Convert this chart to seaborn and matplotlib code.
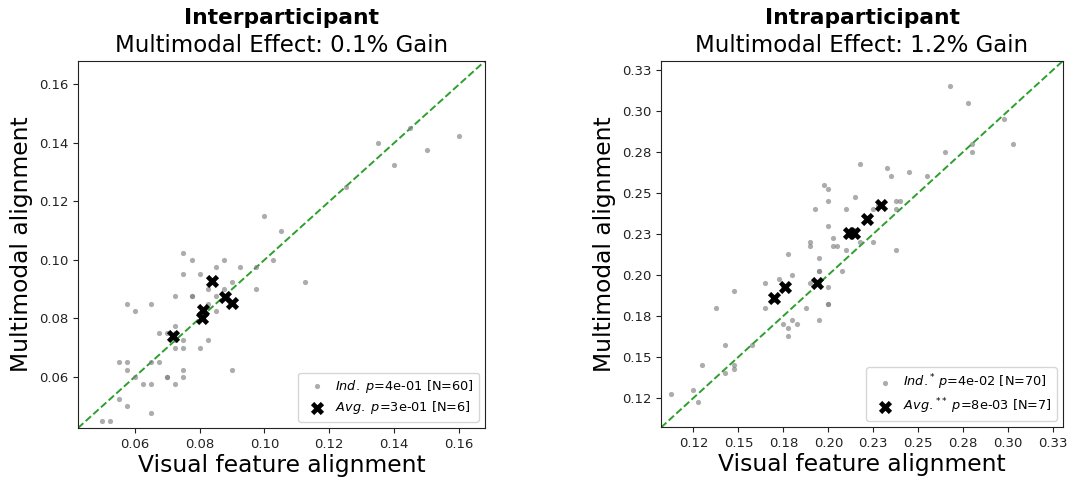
"""Visual vs multimodal alignment scatter, inter- and intraparticipant."""

from __future__ import annotations

import matplotlib

matplotlib.use("Agg")
import matplotlib.pyplot as plt
import pandas as pd
import seaborn as sns

# Interparticipant: individual points and per-group averages
INTER_IND_X = [
    0.050, 0.0525, 0.055, 0.0575, 0.065, 0.055, 0.0575, 0.0575, 0.060, 0.0625,
    0.065, 0.065, 0.0675, 0.070, 0.0725, 0.075, 0.075, 0.0675, 0.070, 0.0725,
    0.0725, 0.075, 0.0725, 0.075, 0.080, 0.0825, 0.0575, 0.060, 0.065, 0.0725,
    0.0775, 0.075, 0.0775, 0.075, 0.080, 0.0825, 0.085, 0.0875, 0.085, 0.0875,
    0.090, 0.0925, 0.085, 0.090, 0.0975, 0.0975, 0.1025, 0.100, 0.105, 0.1125,
    0.125, 0.135, 0.140, 0.145, 0.150, 0.160, 0.0775, 0.070, 0.0725, 0.0825,
]
INTER_IND_Y = [
    0.045, 0.045, 0.0525, 0.050, 0.0475, 0.065, 0.065, 0.0625, 0.060, 0.0575,
    0.0575, 0.065, 0.065, 0.060, 0.0575, 0.060, 0.0625, 0.075, 0.075, 0.0775,
    0.0725, 0.0725, 0.070, 0.070, 0.070, 0.0725, 0.085, 0.0825, 0.085, 0.0875,
    0.0875, 0.1025, 0.100, 0.095, 0.095, 0.090, 0.0975, 0.100, 0.0875, 0.090,
    0.0925, 0.0975, 0.0825, 0.0625, 0.090, 0.0975, 0.100, 0.115, 0.110, 0.0925,
    0.125, 0.140, 0.1325, 0.145, 0.1375, 0.1425, 0.0875, 0.060, 0.075, 0.085,
]
INTER_AVG_X = [0.0718, 0.0837, 0.0811, 0.0806, 0.0878, 0.0899]
INTER_AVG_Y = [0.0738, 0.0929, 0.0829, 0.0801, 0.0872, 0.0854]

# Intraparticipant
INTRA_IND_X = [
    0.1125, 0.125, 0.1275, 0.130, 0.1425, 0.1475, 0.1475, 0.1425, 0.1575, 0.1375,
    0.1475, 0.165, 0.165, 0.1725, 0.170, 0.1775, 0.180, 0.175, 0.1775, 0.1775,
    0.180, 0.1825, 0.1875, 0.190, 0.190, 0.1925, 0.195, 0.195, 0.190, 0.200,
    0.200, 0.200, 0.195, 0.1975, 0.200, 0.200, 0.200, 0.2025, 0.2025, 0.205,
    0.210, 0.210, 0.2075, 0.215, 0.2175, 0.2175, 0.225, 0.225, 0.2325, 0.235,
    0.2375, 0.240, 0.2375, 0.2375, 0.245, 0.255, 0.265, 0.2675, 0.2775, 0.280,
    0.280, 0.2975, 0.3025, 0.195, 0.2125, 0.215, 0.2225, 0.2275, 0.175, 0.195,
]
INTRA_IND_Y = [
    0.1275, 0.130, 0.1225, 0.145, 0.140, 0.145, 0.1425, 0.1575, 0.1575, 0.180,
    0.190, 0.195, 0.180, 0.1975, 0.185, 0.2125, 0.200, 0.170, 0.1675, 0.1625,
    0.1725, 0.170, 0.180, 0.220, 0.2175, 0.240, 0.210, 0.2025, 0.195, 0.1925,
    0.1825, 0.1825, 0.1725, 0.255, 0.2525, 0.245, 0.230, 0.2225, 0.2175, 0.2175,
    0.240, 0.215, 0.2025, 0.2475, 0.2675, 0.220, 0.220, 0.240, 0.265, 0.260,
    0.245, 0.245, 0.240, 0.215, 0.2625, 0.260, 0.275, 0.315, 0.305, 0.280,
    0.275, 0.295, 0.280, 0.195, 0.2275, 0.2275, 0.235, 0.2425, 0.1925, 0.2025,
]
INTRA_AVG_X = [0.1700, 0.1761, 0.1935, 0.2117, 0.2143, 0.2213, 0.2291]
INTRA_AVG_Y = [0.1858, 0.1925, 0.1950, 0.2254, 0.2254, 0.2341, 0.2424]

INTER_TICKS = [0.06, 0.08, 0.10, 0.12, 0.14, 0.16]
INTRA_TICKS = [0.125, 0.15, 0.175, 0.20, 0.225, 0.25, 0.275, 0.30, 0.325]
INTRA_TICK_LABELS = ["0.12", "0.15", "0.18", "0.20", "0.23", "0.25", "0.28", "0.30", "0.33"]

PANELS = [
    {
        "title": "Interparticipant",
        "subtitle": "Multimodal Effect: 0.1% Gain",
        "ind": (INTER_IND_X, INTER_IND_Y),
        "avg": (INTER_AVG_X, INTER_AVG_Y),
        "ind_label": r"$\it{Ind.}$ $p$=4e-01 [N=60]",
        "avg_label": r"$\it{Avg.}$ $p$=3e-01 [N=6]",
        "lims": (0.0425, 0.168),
        "ticks": INTER_TICKS,
        "tick_labels": [f"{t:.2f}" for t in INTER_TICKS],
        "rect": [0.0729, 0.1083, 0.3804, 0.7646],
    },
    {
        "title": "Intraparticipant",
        "subtitle": "Multimodal Effect: 1.2% Gain",
        "ind": (INTRA_IND_X, INTRA_IND_Y),
        "avg": (INTRA_AVG_X, INTRA_AVG_Y),
        "ind_label": r"$\it{Ind.}^{*}$ $p$=4e-02 [N=70]",
        "avg_label": r"$\it{Avg.}^{**}$ $p$=8e-03 [N=7]",
        "lims": (0.107, 0.3305),
        "ticks": INTRA_TICKS,
        "tick_labels": INTRA_TICK_LABELS,
        "rect": [0.6178, 0.1094, 0.3757, 0.7640],
    },
]


def draw_panel(fig, panel: dict) -> None:
    ax = fig.add_axes(panel["rect"])
    lo, hi = panel["lims"]
    ind = pd.DataFrame({"visual": panel["ind"][0], "multi": panel["ind"][1]})
    avg = pd.DataFrame({"visual": panel["avg"][0], "multi": panel["avg"][1]})

    ax.plot([lo, hi], [lo, hi], linestyle="--", color="#2ca02c", linewidth=1.4, zorder=1)
    sns.scatterplot(data=ind, x="visual", y="multi", ax=ax, color="grey", alpha=0.65,
                    s=14, linewidth=0, label=panel["ind_label"], zorder=2)
    sns.scatterplot(data=avg, x="visual", y="multi", ax=ax, color="black", marker="X",
                    s=90, linewidth=0, label=panel["avg_label"], zorder=3)

    ax.set_xlim(lo, hi)
    ax.set_ylim(lo, hi)
    ax.set_xticks(panel["ticks"])
    ax.set_xticklabels(panel["tick_labels"])
    ax.set_yticks(panel["ticks"])
    ax.set_yticklabels(panel["tick_labels"])
    ax.tick_params(labelsize=9.5, colors="#222222", labelcolor="#222222")
    ax.set_xlabel("Visual feature alignment", fontsize=16.8, labelpad=2)
    ax.set_ylabel("Multimodal alignment", fontsize=16.8)
    for spine in ax.spines.values():
        spine.set_color("#222222")

    ax.text(0.5, 1.024, panel["subtitle"], transform=ax.transAxes, ha="center",
            va="baseline", fontsize=16.5)
    ax.text(0.5, 1.10, panel["title"], transform=ax.transAxes, ha="center",
            va="baseline", fontsize=15.7, fontweight="bold")

    ax.legend(loc="lower right", fontsize=9.3, handletextpad=0.4, borderpad=0.4,
              labelspacing=0.35, markerscale=1.0)


def main() -> None:
    fig = plt.figure(figsize=(10.7, 4.8), dpi=100)
    for panel in PANELS:
        draw_panel(fig, panel)
    fig.savefig("out.png", dpi=100)
    plt.close(fig)


if __name__ == "__main__":
    main()
